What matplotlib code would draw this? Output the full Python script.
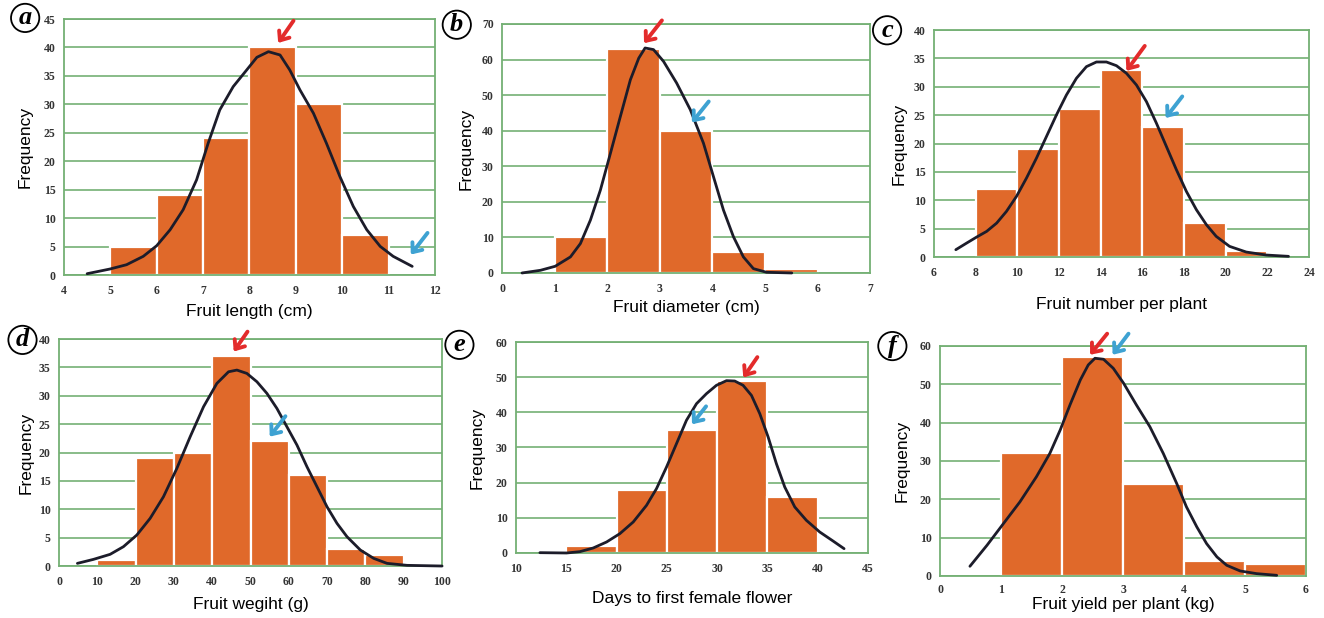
import matplotlib
matplotlib.use("Agg")
import matplotlib.pyplot as plt

# ---- data ----
# bar left edges and counts per panel, plus the fitted curve as read points
a_edges = [5, 6, 7, 8, 9, 10]
a_counts = [5, 14, 24, 40, 30, 7]
a_curve_x = [4.50, 4.99, 5.35, 5.71, 6.00, 6.29, 6.57, 6.86, 7.11, 7.36, 7.65, 7.94, 8.16,
             8.41, 8.66, 8.87, 9.09, 9.38, 9.66, 9.95, 10.24, 10.53, 10.82, 11.10, 11.51]
a_curve_y = [0.23, 1.05, 1.81, 3.28, 5.15, 7.96, 11.47, 16.73, 23.17, 29.02, 33.12, 36.04, 38.27,
             39.26, 38.68, 36.04, 32.53, 28.44, 23.17, 17.32, 12.05, 7.96, 5.03, 3.28, 1.52]

b_edges = [1, 2, 3, 4, 5]
b_counts = [10, 63, 40, 6, 1]
b_curve_x = [0.38, 0.73, 1.01, 1.30, 1.49, 1.68, 1.87, 2.06, 2.25, 2.44, 2.60, 2.72, 2.88,
             3.07, 3.32, 3.58, 3.83, 4.02, 4.21, 4.40, 4.59, 4.78, 5.03, 5.51]
b_curve_y = [0.0, 0.75, 1.88, 4.51, 8.27, 14.85, 23.3, 33.6, 44.0, 54.3, 60.4, 63.25, 62.8,
             59.5, 53.4, 45.9, 36.5, 27.1, 17.7, 10.2, 4.5, 1.22, 0.19, 0.0]

c_edges = [8, 10, 12, 14, 16, 18, 20]
c_counts = [12, 19, 26, 33, 23, 6, 1]
c_curve_x = [7.05, 7.57, 8.05, 8.53, 9.01, 9.48, 9.96, 10.44, 10.92, 11.40, 11.88, 12.36, 12.84,
             13.32, 13.80, 14.28, 14.76, 15.24, 15.72, 16.20, 16.68, 17.16, 17.64, 18.12, 18.60,
             19.08, 19.55, 20.19, 20.99, 21.95, 23.02]
c_curve_y = [1.29, 2.46, 3.52, 4.52, 5.98, 8.04, 10.67, 13.9, 17.42, 21.23, 25.04, 28.56, 31.5,
             33.55, 34.37, 34.37, 33.72, 32.38, 30.32, 27.39, 23.58, 19.47, 15.37, 11.55, 8.33,
             5.69, 3.64, 1.88, 0.88, 0.35, 0.12]

d_edges = [10, 20, 30, 40, 50, 60, 70, 80]
d_counts = [1, 19, 20, 37, 22, 16, 3, 2]
d_curve_x = [4.79, 8.97, 13.33, 16.81, 20.30, 23.78, 27.26, 30.75, 34.23, 37.72, 41.20, 44.25,
             46.43, 49.04, 51.66, 54.27, 56.88, 59.49, 62.11, 64.72, 67.33, 69.95, 72.56, 75.17,
             78.66, 82.14, 85.63, 90.85, 100.0]
d_curve_y = [0.47, 1.17, 2.06, 3.41, 5.46, 8.40, 12.21, 17.2, 22.78, 28.07, 32.18, 34.23,
             34.53, 33.94, 32.47, 30.42, 27.77, 24.54, 21.32, 17.5, 13.98, 10.45, 7.52, 5.17,
             2.82, 1.35, 0.47, 0.12, 0.0]

e_edges = [15, 20, 25, 30, 35]
e_counts = [2, 18, 35, 49, 16]
e_curve_x = [12.38, 15.03, 16.36, 17.68, 19.01, 20.33, 21.66, 22.98, 23.97, 24.97, 25.96, 26.95,
             27.95, 28.94, 29.93, 30.93, 31.75, 32.58, 33.41, 34.24, 35.07, 35.89, 36.72, 37.72,
             38.87, 40.2, 41.52, 42.62]
e_curve_y = [0.09, 0.0, 0.38, 1.42, 3.13, 5.5, 8.82, 13.55, 18.29, 24.45, 31.09, 37.73,
             42.46, 45.31, 47.68, 49.0, 48.9, 47.68, 44.83, 39.62, 32.99, 25.4, 18.77, 13.08,
             9.29, 5.97, 3.41, 1.23]

f_edges = [1, 2, 3, 4, 5]
f_counts = [32, 57, 24, 4, 3]
f_curve_x = [0.49, 0.77, 1.04, 1.31, 1.58, 1.80, 1.97, 2.13, 2.30, 2.43, 2.54, 2.68, 2.84,
             3.01, 3.22, 3.44, 3.66, 3.88, 4.04, 4.21, 4.37, 4.54, 4.70, 4.92, 5.19, 5.52]
f_curve_y = [2.53, 8.01, 13.68, 19.34, 25.87, 31.97, 38.07, 44.6, 51.13, 55.05, 56.79, 56.53, 54.18,
             50.26, 44.6, 38.94, 31.97, 24.13, 18.03, 12.8, 8.45, 4.97, 2.79, 1.31, 0.61, 0.17]

letters = ["a", "b", "c", "d", "e", "f"]
xlabels = ["Fruit length (cm)", "Fruit diameter (cm)", "Fruit number per plant",
           "Fruit wegiht (g)", "Days to first female flower", "Fruit yield per plant (kg)"]
bin_widths = [1, 1, 2, 10, 5, 1]
xlims = [(4, 12), (0, 7), (6, 24), (0, 100), (10, 45), (0, 6)]
xsteps = [1, 1, 2, 10, 5, 1]
ylims = [45, 70, 40, 40, 60, 60]
ysteps = [5, 10, 5, 5, 10, 10]
# arrows: (tip x, tip y, tail x, tail y)
red_arrows = [(8.62, 40.8, 8.95, 44.7), (2.7, 64.6, 3.04, 71), (15.24, 32.8, 16.12, 37.2),
              (45.6, 37.8, 49.2, 41.3), (32.6, 49.9, 34.0, 55.7), (2.46, 57.7, 2.74, 63.2)]
blue_arrows = [(11.48, 3.6, 11.84, 7.4), (3.61, 42.3, 3.93, 48.2), (17.12, 24.5, 17.92, 28.3),
               (55, 22.8, 59.1, 26.4), (27.5, 36.6, 28.9, 41.7), (2.83, 57.7, 3.09, 63.2)]

edges = [a_edges, b_edges, c_edges, d_edges, e_edges, f_edges]
counts = [a_counts, b_counts, c_counts, d_counts, e_counts, f_counts]
curves = [(a_curve_x, a_curve_y), (b_curve_x, b_curve_y), (c_curve_x, c_curve_y),
          (d_curve_x, d_curve_y), (e_curve_x, e_curve_y), (f_curve_x, f_curve_y)]

# ---- layout (figure fractions) ----
positions = [
    [0.0483, 0.555, 0.2802, 0.4142],
    [0.3792, 0.5583, 0.278, 0.4029],
    [0.7054, 0.5841, 0.2832, 0.3673],
    [0.0446, 0.0841, 0.2893, 0.3673],
    [0.3897, 0.1052, 0.2659, 0.3414],
    [0.71, 0.068, 0.2764, 0.3722],
]
tick_pad = [7, 7, 7, 7, 7, 6]
xlabel_pad = [5, 4, 13, 7, 12, 0.5]
ylabel_pad = [8, 6, 5, 4, 8, 7]
letter_pos = [(0.019, 0.971), (0.345, 0.96), (0.670, 0.951),
              (0.017, 0.45), (0.347, 0.442), (0.674, 0.44)]

orange = "#e0692a"
green = "#74b074"
curve_col = "#1c1c2a"
red = "#e32b2b"
blue = "#3ea2d2"

fig = plt.figure(figsize=(13.24, 6.18), dpi=100)

for i in range(6):
    ax = fig.add_axes(positions[i])
    ax.bar(edges[i], counts[i], width=bin_widths[i], align="edge",
           color=orange, edgecolor="white", linewidth=1.6, zorder=2)
    ax.plot(curves[i][0], curves[i][1], color=curve_col, lw=2.0, zorder=3,
            solid_capstyle="round", solid_joinstyle="round", clip_on=False)
    ax.set_xlim(*xlims[i])
    ax.set_ylim(0, ylims[i])
    ax.set_xticks(range(xlims[i][0], xlims[i][1] + 1, xsteps[i]))
    ax.set_yticks(range(0, ylims[i] + 1, ysteps[i]))
    ax.yaxis.grid(True, color=green, lw=1.2, zorder=1)
    ax.set_axisbelow(True)
    for s in ax.spines.values():
        s.set_color(green)
        s.set_linewidth(1.3)
    ax.tick_params(axis="x", length=0, pad=tick_pad[i])
    ax.tick_params(axis="y", length=0, pad=6)
    for lab in ax.get_xticklabels() + ax.get_yticklabels():
        lab.set_fontfamily("Liberation Serif")
        lab.set_fontweight("bold")
        lab.set_fontsize(8.5)
        lab.set_color("#333333")
    ax.set_xlabel(xlabels[i], fontsize=12.5, family="Liberation Sans", labelpad=xlabel_pad[i])
    ax.set_ylabel("Frequency", fontsize=12.5, family="Liberation Sans", labelpad=ylabel_pad[i])

    for arr, col in ((red_arrows[i], red), (blue_arrows[i], blue)):
        ax.annotate("", xy=(arr[0], arr[1]), xytext=(arr[2], arr[3]),
                    arrowprops=dict(arrowstyle="->,head_width=0.45,head_length=0.55",
                                    color=col, lw=2.8, shrinkA=0, shrinkB=0),
                    annotation_clip=False, zorder=4)

    fig.text(letter_pos[i][0], letter_pos[i][1], letters[i], fontsize=19,
             family="Liberation Serif", style="italic", fontweight="bold",
             ha="center", va="center",
             bbox=dict(boxstyle="circle,pad=0.1", fc="white", ec="black", lw=1.3))

fig.savefig("out.png", dpi=100)
